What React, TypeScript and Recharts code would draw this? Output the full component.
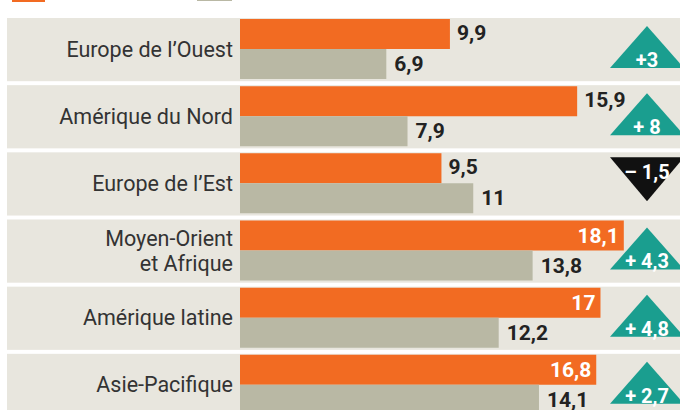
import React from "react";
import { BarChart, Bar, XAxis, YAxis, LabelList } from "recharts";

// regions, latest year vs previous year (%)
const regions = [
  "Europe de l’Ouest",
  "Amérique du Nord",
  "Europe de l’Est",
  "Moyen-Orient\net Afrique",
  "Amérique latine",
  "Asie-Pacifique",
];
const current = [9.9, 15.9, 9.5, 18.1, 17, 16.8];
const previous = [6.9, 7.9, 11, 13.8, 12.2, 14.1];
const diffLabels = ["+3", "+ 8", "– 1,5", "+ 4,3", "+ 4,8", "+ 2,7"];

const ORANGE = "#f26b22";
const GREY = "#b9b8a4";
const BAND = "#e8e6de";
const TEAL = "#1a9e8f";
const FONT = "Roboto, sans-serif";

const data = regions.map((name, i) => ({
  name,
  current: current[i],
  previous: previous[i],
  diff: diffLabels[i],
  up: current[i] >= previous[i],
}));

const fmt = (v: number) => String(v).replace(".", ",");

// beige row band, drawn as the background of the first bar series
const BandBg = (props: any) => {
  const { y, index } = props;
  return <rect key={`band-${index}`} x={7} y={y - 1} width={673} height={63.2} fill={BAND} />;
};

const RegionTick = (props: any) => {
  const { y, payload, index } = props;
  const row = data[index] || data.find((d) => d.name === payload.value);
  const top = y - 33.6;
  const lines = String(payload.value).split("\n");
  const cx = 647;
  const tri = row.up
    ? `M${cx},${top + 11} L${cx + 37},${top + 53} L${cx - 37},${top + 53} Z`
    : `M${cx - 37},${top + 8} L${cx + 37},${top + 8} L${cx},${top + 52} Z`;
  return (
    <g>
      <text
        x={233}
        y={y - ((lines.length - 1) * 25) / 2}
        textAnchor="end"
        dominantBaseline="central"
        fontFamily={FONT}
        fontSize={21.5}
        fill="#333"
      >
        {lines.map((l, i) => (
          <tspan key={i} x={233} dy={i === 0 ? 0 : 25}>
            {l}
          </tspan>
        ))}
      </text>
      <path d={tri} fill={row.up ? TEAL : "#111"} />
      <text
        x={cx}
        y={row.up ? top + 45 : top + 23}
        textAnchor="middle"
        dominantBaseline="central"
        fontFamily={FONT}
        fontWeight={700}
        fontSize={20}
        fill="#fff"
      >
        {row.diff}
      </text>
    </g>
  );
};

const CurrentLabel = (props: any) => {
  const { x, y, width, height, value } = props;
  const inside = value > 16;
  return (
    <text
      x={inside ? x + width - 5 : x + width + 7}
      y={y + height / 2 + (inside ? 0.5 : -1.5)}
      textAnchor={inside ? "end" : "start"}
      dominantBaseline="central"
      fontFamily={FONT}
      fontWeight={700}
      fontSize={21}
      fill={inside ? "#fff" : "#222"}
    >
      {fmt(value)}
    </text>
  );
};

const PreviousLabel = (props: any) => {
  const { x, y, width, height, value } = props;
  return (
    <text
      x={x + width + 8}
      y={y + height / 2}
      textAnchor="start"
      dominantBaseline="central"
      fontFamily={FONT}
      fontWeight={700}
      fontSize={21}
      fill="#222"
    >
      {fmt(value)}
    </text>
  );
};

export default function App() {
  return (
    <div
      style={{
        position: "absolute",
        left: 0,
        top: 0,
        width: 680,
        height: 410,
        overflow: "hidden",
        background: "#fff",
      }}
    >
      {/* legend swatches, cut off at the top of the crop */}
      <div style={{ position: "absolute", left: 12, top: 0, width: 33, height: 2, background: ORANGE }} />
      <div style={{ position: "absolute", left: 197, top: 0, width: 35, height: 1, background: GREY }} />
      <BarChart
        width={680}
        height={420}
        data={data}
        layout="vertical"
        margin={{ top: 15, right: 0, left: 0, bottom: 2 }}
        barGap={0}
      >
        <XAxis type="number" domain={[0, 20.75]} hide />
        <YAxis
          type="category"
          dataKey="name"
          width={240}
          axisLine={false}
          tickLine={false}
          tick={<RegionTick />}
          interval={0}
        />
        <Bar
          dataKey="current"
          fill={ORANGE}
          barSize={30}
          background={BandBg}
          isAnimationActive={false}
        >
          <LabelList dataKey="current" content={<CurrentLabel />} />
        </Bar>
        <Bar dataKey="previous" fill={GREY} barSize={30} isAnimationActive={false}>
          <LabelList dataKey="previous" content={<PreviousLabel />} />
        </Bar>
      </BarChart>
    </div>
  );
}
